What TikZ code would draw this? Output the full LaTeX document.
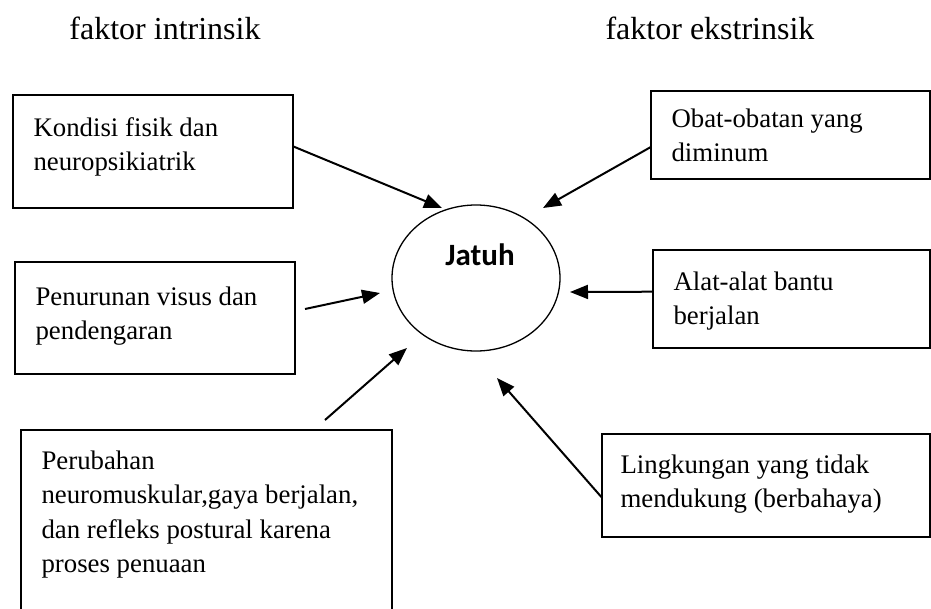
\documentclass[tikz,border=0pt]{standalone}
\usepackage{fontspec}
\setmainfont{Liberation Serif}
\newfontfamily\jatuhfont{Carlito}
\usetikzlibrary{arrows.meta,positioning,shapes.geometric}

\begin{document}
\begin{tikzpicture}[x=1pt,y=-1pt]
      \tikzstyle{every node}+=[inner sep=0pt]
      \tikzstyle{faktorbox}=[draw=black, line width=1.3pt, rectangle]
      \tikzstyle{faktortext}=[align=left, font=\fontsize{26.8}{34.5}\selectfont]
      \tikzstyle{judul}=[font=\fontsize{32}{32}\selectfont]
      \tikzstyle{panah}=[line width=2pt, -{Triangle[length=18pt,width=14pt]}]
      \useasboundingbox (0,0) rectangle (931,608);
      \clip (0,0) rectangle (931,608);
      \node[judul] (intrinsik) at (165,28) {faktor intrinsik};
      \node[judul] (ekstrinsik) at (710,28) {faktor ekstrinsik};
      \node[draw=black, line width=1.3pt, ellipse, minimum width=168, minimum height=146] (jatuh) at (476,278) {};
      \node[font=\jatuhfont\bfseries\fontsize{31}{31}\selectfont] (jatuhlabel) at ([xshift=4pt,yshift=23pt]jatuh.center) {Jatuh};
      \node[faktorbox, minimum width=280, minimum height=113] (kondisi) at (153,151.5) {};
      \node[faktortext, below right=23pt and 21pt of kondisi.north west] (kondisitext) {Kondisi fisik dan\\neuropsikiatrik};
      \node[faktorbox, minimum width=280, minimum height=112] (penurunan) at (155,318) {};
      \node[faktortext, below right=25pt and 21pt of penurunan.north west] (penurunantext) {Penurunan visus dan\\pendengaran};
      \node[faktorbox, minimum width=371, minimum height=200] (perubahan) at (206.5,530) {};
      \node[faktortext, below right=21pt and 21pt of perubahan.north west] (perubahantext) {Perubahan\\neuromuskular,gaya berjalan,\\dan refleks postural karena\\proses penuaan};
      \node[faktorbox, minimum width=279, minimum height=88] (obat) at (790.5,135) {};
      \node[faktortext, below right=18pt and 21pt of obat.north west] (obattext) {Obat-obatan yang\\diminum};
      \node[faktorbox, minimum width=277, minimum height=98] (alat) at (791.5,299) {};
      \node[faktortext, below right=22pt and 21pt of alat.north west] (alattext) {Alat-alat bantu\\berjalan};
      \node[faktorbox, minimum width=328, minimum height=103] (lingkungan) at (766,485.5) {};
      \node[faktortext, below right=21pt and 19pt of lingkungan.north west] (lingkungantext) {Lingkungan yang tidak\\mendukung (berbahaya)};
      \coordinate (ujung1) at (442,208);
      \coordinate (pangkal2) at (305,309);
      \coordinate (ujung2) at (380,293);
      \coordinate (pangkal3) at (325,420);
      \coordinate (ujung3) at (407,348);
      \coordinate (ujung4) at (543,208);
      \coordinate (ujung5) at (570,292);
      \coordinate (ujung6) at (497,378);
      \draw[panah] (kondisi.2) -- (ujung1);
      \draw[panah] (pangkal2) -- (ujung2);
      \draw[panah] (pangkal3) -- (ujung3);
      \draw[panah] (obat.185) -- (ujung4);
      \draw[panah] (alat.177) -- (ujung5);
      \draw[panah] (lingkungan.184) -- (ujung6);
    \end{tikzpicture}
\end{document}
